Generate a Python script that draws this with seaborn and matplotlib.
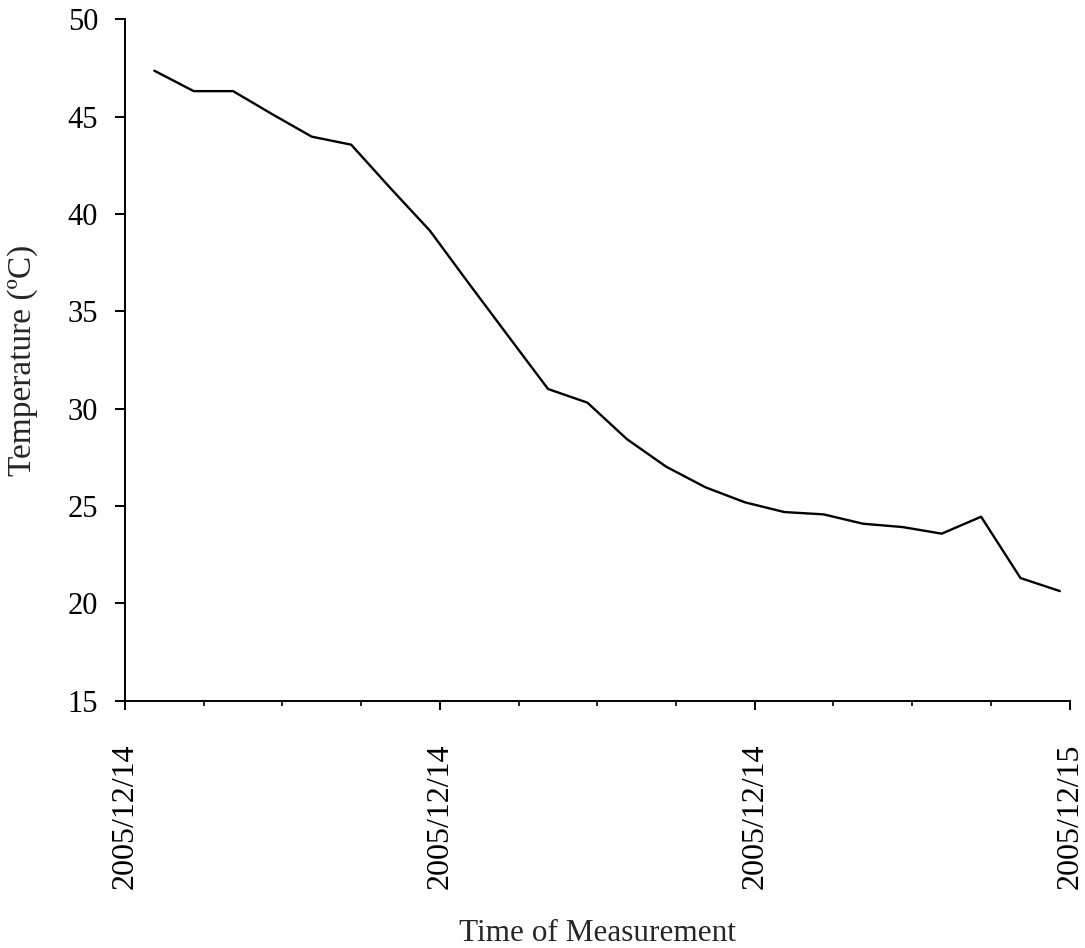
import matplotlib
matplotlib.use("Agg")
import matplotlib.pyplot as plt
import matplotlib.dates as mdates
import seaborn as sns
import pandas as pd

# ---- data ----
times = ["2005-12-14 00:45", "2005-12-14 01:45", "2005-12-14 02:45", "2005-12-14 03:45",
         "2005-12-14 04:45", "2005-12-14 05:45", "2005-12-14 06:45", "2005-12-14 07:45",
         "2005-12-14 08:45", "2005-12-14 09:45", "2005-12-14 10:45", "2005-12-14 11:45",
         "2005-12-14 12:45", "2005-12-14 13:45", "2005-12-14 14:45", "2005-12-14 15:45",
         "2005-12-14 16:45", "2005-12-14 17:45", "2005-12-14 18:45", "2005-12-14 19:45",
         "2005-12-14 20:45", "2005-12-14 21:45", "2005-12-14 22:45", "2005-12-14 23:45"]
temperature = [47.36, 46.31, 46.31, 45.12, 43.97, 43.56, 41.32, 39.14,
               36.40, 33.70, 31.01, 30.31, 28.44, 27.02, 25.96, 25.19,
               24.69, 24.57, 24.09, 23.92, 23.58, 24.45, 21.30, 20.63]
x_start = "2005-12-14 00:00"
x_end = "2005-12-15 00:00"
y_ticks = [15, 20, 25, 30, 35, 40, 45, 50]
x_title = "Time of Measurement"
y_title = "Temperature (ºC)"

df = pd.DataFrame({"time": pd.to_datetime(times), "temp": temperature})

sns.set_style("ticks")
plt.rcParams["font.family"] = ["Liberation Serif", "DejaVu Serif"]

fig = plt.figure(figsize=(10.85, 9.48), dpi=100)
ax = fig.add_axes([0.11502, 0.26087, 0.87088, 0.71878])

sns.lineplot(data=df, x="time", y="temp", ax=ax, color="black", linewidth=1.7)

ax.set_xlim(pd.Timestamp(x_start), pd.Timestamp(x_end))
ax.set_ylim(15, 50)
ax.set_yticks(y_ticks)

ax.xaxis.set_major_locator(mdates.HourLocator(byhour=[0, 8, 16]))
ax.xaxis.set_minor_locator(mdates.HourLocator(interval=2))
ax.xaxis.set_major_formatter(mdates.DateFormatter("%Y/%m/%d"))

for s in ["top", "right"]:
    ax.spines[s].set_visible(False)
for s in ["left", "bottom"]:
    ax.spines[s].set_linewidth(1.4)
    ax.spines[s].set_color("black")

ax.tick_params(axis="x", which="major", direction="out", length=6.5, width=1.4,
               pad=24, labelsize=23, labelrotation=90, colors="black")
ax.tick_params(axis="x", which="minor", direction="out", length=3.6, width=1.4)
ax.tick_params(axis="y", which="major", direction="out", length=7.2, width=1.4,
               pad=12, labelsize=22, colors="black")

ax.set_xlabel(x_title, fontsize=22.5)
ax.set_ylabel(y_title, fontsize=24)
ax.xaxis.set_label_coords(0.5, -0.32)
ax.yaxis.set_label_coords(-0.092, 0.5)

ax.grid(False)
fig.savefig("out.png", dpi=100)
